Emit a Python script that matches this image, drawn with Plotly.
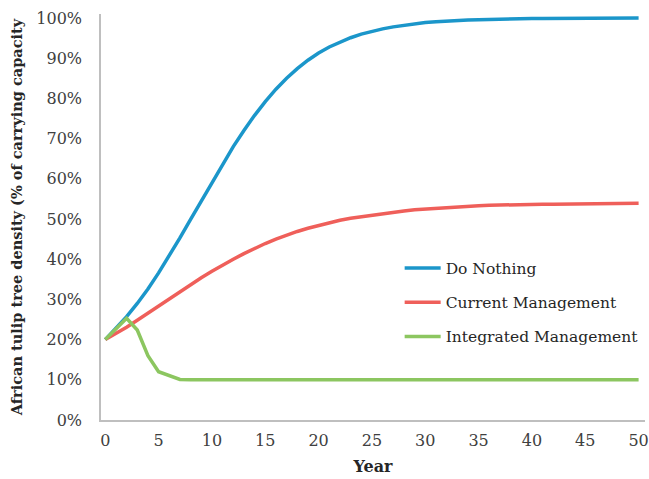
import plotly.graph_objects as go

years = list(range(0, 51))

do_nothing = [20.0, 22.7, 25.7, 29.0, 32.6, 36.6, 40.8, 45.3, 49.9, 54.5,
              59.2, 63.7, 68.0, 72.0, 75.8, 79.2, 82.3, 85.0, 87.4, 89.5,
              91.3, 92.8, 94.0, 95.1, 96.0, 96.7, 97.3, 97.8, 98.2, 98.6,
              98.9, 99.1, 99.3, 99.4, 99.5, 99.6, 99.7, 99.75, 99.8, 99.85,
              99.9, 99.9, 99.92, 99.94, 99.95, 99.96, 99.97, 99.98, 99.98, 99.99,
              99.99]

current_mgmt = [20.0, 21.5, 23.1, 24.8, 26.6, 28.4, 30.2, 32.0, 33.7, 35.4,
                37.0, 38.6, 40.0, 41.4, 42.7, 43.9, 45.0, 46.0, 46.9, 47.7,
                48.4, 49.1, 49.7, 50.2, 50.6, 51.0, 51.4, 51.7, 52.0, 52.3,
                52.5, 52.7, 52.9, 53.0, 53.1, 53.3, 53.4, 53.5, 53.5, 53.6,
                53.6, 53.7, 53.7, 53.7, 53.8, 53.8, 53.8, 53.8, 53.9, 53.9,
                53.9]

integrated_mgmt = [20.0, 22.6, 25.3, 22.4, 16.0, 12.0, 11.0, 10.1, 10.0, 10.0,
                   10.0, 10.0, 10.0, 10.0, 10.0, 10.0, 10.0, 10.0, 10.0, 10.0,
                   10.0, 10.0, 10.0, 10.0, 10.0, 10.0, 10.0, 10.0, 10.0, 10.0,
                   10.0, 10.0, 10.0, 10.0, 10.0, 10.0, 10.0, 10.0, 10.0, 10.0,
                   10.0, 10.0, 10.0, 10.0, 10.0, 10.0, 10.0, 10.0, 10.0, 10.0,
                   10.0]

series_names = ["Do Nothing", "Current Management", "Integrated Management"]
series_colors = ["#1B96CA", "#EF5F5A", "#8CC660"]

x_ticks = list(range(0, 51, 5))
y_ticks = [i / 100 for i in range(0, 101, 10)]
y_tick_labels = [f"{i}%" for i in range(0, 101, 10)]

FONT = "DejaVu Serif"

fig = go.Figure()
for name, vals, col in zip(series_names, [do_nothing, current_mgmt, integrated_mgmt], series_colors):
    fig.add_trace(go.Scatter(
        x=years, y=[v / 100 for v in vals], mode="lines", name=name,
        line=dict(color=col, width=3.5), legendgroup=name,
    ))

fig.update_layout(
    width=649, height=479,
    margin=dict(l=101, r=4, t=14, b=59),
    paper_bgcolor="white", plot_bgcolor="white",
    font=dict(family=FONT, size=16, color="#404040"),
    showlegend=True,
    legend=dict(x=0.549, y=0.415, xanchor="left", yanchor="top",
                bgcolor="rgba(0,0,0,0)", font=dict(size=15.5, color="#262626"),
                tracegroupgap=11, itemwidth=36),
    xaxis=dict(range=[-0.4, 50.6], tickvals=x_ticks, showgrid=False, zeroline=False,
               showline=True, linecolor="#BFBFBF", linewidth=1.5, ticks="",
               ticklabelstandoff=5, automargin=False,
               title=dict(text="<b>Year</b>", font=dict(size=16, color="#262626"), standoff=12)),
    yaxis=dict(range=[0, 1.01], tickvals=y_ticks, ticktext=y_tick_labels, showgrid=False,
               zeroline=False, showline=True, linecolor="#BFBFBF", linewidth=1.5, ticks="",
               ticklabelstandoff=14, automargin=False,
               title=dict(text="<b>African tulip tree density (% of carrying capacity</b>",
                          font=dict(size=14.5, color="#262626"), standoff=10)),
)

fig.write_html(
    "out.html",
    config={"displayModeBar": False},
    post_script="document.body.style.margin='0';document.body.style.overflow='hidden';",
)
